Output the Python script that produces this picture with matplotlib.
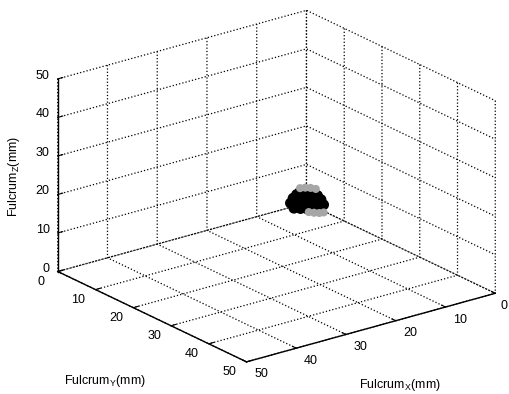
import matplotlib
matplotlib.use('Agg')
import matplotlib.pyplot as plt
from mpl_toolkits.mplot3d import proj3d

plt.rcParams['font.family'] = ['Liberation Sans', 'DejaVu Sans']
plt.rcParams['mathtext.default'] = 'regular'
plt.rcParams['font.size'] = 9

# ---- data ----
x_ticks = [0, 10, 20, 30, 40, 50]
y_ticks = [0, 10, 20, 30, 40, 50]
z_ticks = [0, 10, 20, 30, 40, 50]
x_tick_labels = ['0', '10', '20', '30', '40', '50']
y_tick_labels = ['0', '10', '20', '30', '40', '50']
z_tick_labels = ['0', '10', '20', '30', '40', '50']

# dense core of the fulcrum cloud
core_x = [21.5, 20.75, 20.0, 19.25, 18.5,
          21.9, 21.2, 20.4, 19.6, 18.8, 18.1,
          21.6, 20.8, 20.0, 19.2, 18.4,
          21.2, 20.4, 19.6, 18.8,
          20.8, 20.0, 19.2]
core_y = [25.0, 25.75, 26.5, 27.25, 28.0,
          24.6, 25.3, 26.1, 26.9, 27.7, 28.4,
          24.9, 25.7, 26.5, 27.3, 28.1,
          25.3, 26.1, 26.9, 27.7,
          25.7, 26.5, 27.3]
core_z = [18.0, 18.0, 18.0, 18.0, 18.0,
          19.3, 19.3, 19.3, 19.3, 19.3, 19.3,
          20.6, 20.6, 20.6, 20.6, 20.6,
          21.6, 21.6, 21.6, 21.6,
          22.4, 22.4, 22.4]
# sparse outer points (lighter)
halo_x = [20.8, 20.2, 19.6, 19.0, 19.8, 19.2, 18.6, 18.1]
halo_y = [25.7, 26.3, 26.9, 27.5, 26.7, 27.3, 27.9, 28.4]
halo_z = [23.3, 23.5, 23.5, 23.3, 17.2, 17.1, 17.1, 17.3]

W, H = 510, 394
fig = plt.figure(figsize=(W / 100, H / 100), dpi=100)
ax = fig.add_axes([0, 0, 1, 1], projection='3d', proj_type='ortho')
ax.view_init(elev=21.3, azim=52.8)
ax.set_xlim(0, 50)
ax.set_ylim(0, 50)
ax.set_zlim(0, 50)
ax.set_xticks(x_ticks)
ax.set_yticks(y_ticks)
ax.set_zticks(z_ticks)
ax.set_xticklabels([])
ax.set_yticklabels([])
ax.set_zticklabels([])

for axis in (ax.xaxis, ax.yaxis, ax.zaxis):
    axis.set_pane_color((1, 1, 1, 0))
    axis.pane.set_edgecolor('none')
    axis.line.set_color('black')
    axis.line.set_linewidth(1.0)
    axis._axinfo['grid'].update(color='black', linestyle=':', linewidth=0.9)
    axis._axinfo['tick']['inward_factor'] = 0.0
    axis._axinfo['tick']['outward_factor'] = 0.25

ax.scatter(halo_x, halo_y, halo_z, s=34, c='0.65', depthshade=False, edgecolors='none')
ax.scatter(core_x, core_y, core_z, s=60, c='black', depthshade=False, edgecolors='none')

# ---- fit the projected box onto the reference layout ----
targets = {'L': (58, 271), 'R': (495, 294), 'T': (305, 10), 'B': (248, 362)}
corners = {'L': (50, 0, 0), 'R': (0, 50, 0), 'T': (0, 0, 50), 'B': (50, 50, 0)}


def proj_px(p):
    X, Y, _ = proj3d.proj_transform(p[0], p[1], p[2], ax.get_proj())
    dx, dy = ax.transData.transform((X, Y))
    return dx, H - dy


zoom = 1.0
ax.set_box_aspect((1, 1, 0.662), zoom=zoom)
pos = [0, 0, 1, 1]
for _ in range(3):
    fig.canvas.draw()
    cur = {k: proj_px(v) for k, v in corners.items()}
    cw = cur['R'][0] - cur['L'][0]
    tw = targets['R'][0] - targets['L'][0]
    ch = cur['B'][1] - cur['T'][1]
    th = targets['B'][1] - targets['T'][1]
    zoom *= 0.5 * (tw / cw + th / ch)
    ax.set_box_aspect((1, 1, 0.662), zoom=zoom)
    fig.canvas.draw()
    cur = {k: proj_px(v) for k, v in corners.items()}
    offx = sum(targets[k][0] - cur[k][0] for k in targets) / 4
    offy = sum(targets[k][1] - cur[k][1] for k in targets) / 4
    pos = [pos[0] + offx / W, pos[1] - offy / H, 1, 1]
    ax.set_position(pos)
fig.canvas.draw()


def put(px_, py_, s, **kw):
    fig.text(px_ / W, 1 - py_ / H, s, fontsize=9, **kw)


# tick labels placed next to the projected tick positions
for v, s in zip(y_ticks, y_tick_labels):
    tx, ty = proj_px((50, v, 0))
    put(tx - 17, ty + 10.5, s, ha='center', va='center')
for v, s in zip(x_ticks, x_tick_labels):
    tx, ty = proj_px((v, 50, 0))
    put(min(tx + 14.5, W - 6), ty + 12.5, s, ha='center', va='center')
for v, s in zip(z_ticks, z_tick_labels):
    tx, ty = proj_px((50, 0, v))
    put(tx - 8, ty - 3, s, ha='right', va='center')

put(14, 176, 'Fulcrum$_Z$(mm)', rotation=90, ha='center', va='center')
put(105, 381, 'Fulcrum$_Y$(mm)', ha='center', va='center')
put(400, 385, 'Fulcrum$_X$(mm)', ha='center', va='center')

fig.savefig('out.png', dpi=100)
